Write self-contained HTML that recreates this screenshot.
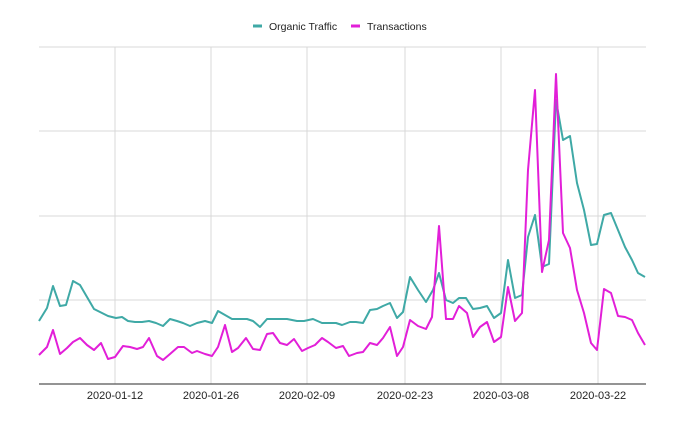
<!DOCTYPE html>
<html><head><meta charset="utf-8"><style>
html,body{margin:0;padding:0;background:#fff;width:681px;height:421px;overflow:hidden}
svg{display:block}
text{font-family:"Liberation Sans",Arial,sans-serif;fill:#222}
</style></head><body>
<svg width="681" height="421" viewBox="0 0 681 421">
<g stroke="#d9d9d9" stroke-width="1">
<line x1="39" y1="47" x2="646" y2="47"/>
<line x1="39" y1="131" x2="646" y2="131"/>
<line x1="39" y1="216" x2="646" y2="216"/>
<line x1="39" y1="300" x2="646" y2="300"/>
<line x1="115" y1="47" x2="115" y2="384"/>
<line x1="211" y1="47" x2="211" y2="384"/>
<line x1="307" y1="47" x2="307" y2="384"/>
<line x1="405" y1="47" x2="405" y2="384"/>
<line x1="501" y1="47" x2="501" y2="384"/>
<line x1="598" y1="47" x2="598" y2="384"/>
</g>
<line x1="39" y1="384" x2="646" y2="384" stroke="#555" stroke-width="1.2"/>
<g font-size="11" text-anchor="middle">
<text x="115" y="399">2020-01-12</text>
<text x="211" y="399">2020-01-26</text>
<text x="307" y="399">2020-02-09</text>
<text x="405" y="399">2020-02-23</text>
<text x="501" y="399">2020-03-08</text>
<text x="598" y="399">2020-03-22</text>
</g>
<line x1="253" y1="26" x2="262" y2="26" stroke="#3fa9a6" stroke-width="3"/>
<text x="269" y="30" font-size="10.5">Organic Traffic</text>
<line x1="351" y1="26" x2="360" y2="26" stroke="#e21fd8" stroke-width="3"/>
<text x="367" y="30" font-size="10.5">Transactions</text>
<polyline fill="none" stroke="#3fa9a6" stroke-width="2" stroke-linejoin="round" points="39,321 47,308 53,286 60,306 66,305 73,281 80,285 87,297 94,309 102,313 108,316 116,318 122,317 128,321 135,322 142,322 149,321 156,323 163,326 170,319 177,321 183,323 190,326 197,323 205,321 212,323 218,311 225,315 232,319 240,319 247,319 253,321 260,327 267,319 274,319 280,319 287,319 292,320 297,321 304,321 313,319 322,323 330,323 336,323 342,325 350,322 356,322 363,323 370,310 377,309 383,306 390,303 397,318 403,312 410,277 418,290 426,302 433,290 439,273 446,300 453,303 459,298 466,298 473,309 480,308 487,306 494,318 501,313 508,260 515,298 522,295 528,237 535,215 542,267 549,264 556,100 563,140 570,136 577,183 584,210 591,245 597,244 604,215 611,213 618,230 625,247 632,260 638,273 645,277"/>
<polyline fill="none" stroke="#e21fd8" stroke-width="2" stroke-linejoin="round" points="39,355 47,347 53,330 60,354 67,348 73,342 80,338 87,345 94,350 101,343 108,359 115,357 123,346 130,347 137,349 143,347 149,338 157,356 163,360 170,354 178,347 184,347 192,353 197,351 205,354 212,356 218,347 225,325 232,352 238,348 246,338 253,349 260,350 267,334 273,333 280,343 287,345 294,339 302,351 308,348 315,345 322,338 328,342 336,348 343,346 349,356 357,353 363,352 370,343 377,345 383,338 390,327 397,356 403,347 410,320 418,326 426,329 432,317 439,226 446,319 453,319 459,306 467,313 473,337 480,327 487,322 494,342 501,337 508,287 515,321 522,313 528,170 535,90 542,272 549,240 556,74 563,233 570,248 577,290 584,313 591,343 597,350 604,289 611,293 618,316 625,317 632,320 638,333 645,345"/>
</svg>
</body></html>
